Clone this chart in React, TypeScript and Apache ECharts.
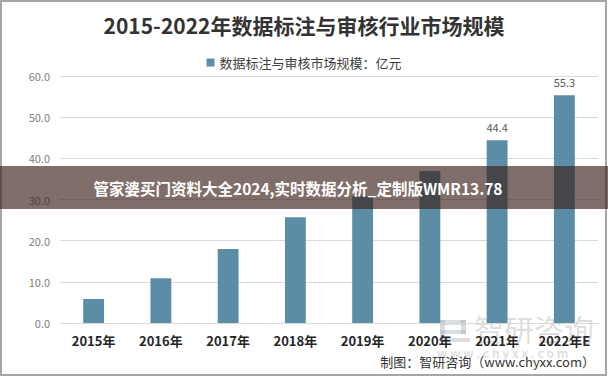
import React, { useEffect, useRef } from "react";
import * as echarts from "echarts";

const categories = ["2015年", "2016年", "2017年", "2018年", "2019年", "2020年", "2021年", "2022年E"];
const marketSize = [5.8, 10.9, 18.0, 25.7, 30.8, 36.9, 44.4, 55.3];
const labelShown = [false, false, false, false, false, false, true, true];
const yTicks = { min: 0, max: 60, interval: 10 };
const titleText = "2015-2022年数据标注与审核行业市场规模";
const seriesName = "数据标注与审核市场规模：亿元";
const bannerText = "管家婆买门资料大全2024,实时数据分析_定制版WMR13.78";
const sourceText = "制图：智研咨询（www.chyxx.com）";
const watermarkName = "智研咨询";
const watermarkUrl = "w w w . c h y x x . c o m";

export default function App() {
  const ref = useRef<HTMLDivElement>(null);
  useEffect(() => {
    document.body.style.margin = "0";
    if (!ref.current) return;
    const chart = echarts.init(ref.current, null, { renderer: "svg" });
    const font = "'Noto Sans CJK SC', 'Noto Sans', sans-serif";
    const wm = "rgba(150,160,175,0.35)";
    chart.setOption({
      animation: false,
      backgroundColor: "#ffffff",
      textStyle: { fontFamily: font },
      title: {
        text: titleText,
        left: "center",
        top: 9,
        textStyle: { fontSize: 21, fontWeight: "bold", color: "#333333", fontFamily: font },
      },
      legend: {
        top: 51,
        left: "center",
        itemWidth: 8,
        itemHeight: 8,
        itemGap: 6,
        icon: "rect",
        textStyle: { fontSize: 13, color: "#404040", fontFamily: font },
        data: [seriesName],
      },
      grid: { left: 60, right: 10, top: 76, bottom: 54, containLabel: false },
      xAxis: {
        type: "category",
        data: categories,
        axisLine: { show: true, lineStyle: { color: "#d9d9d9" } },
        axisTick: { show: false },
        axisLabel: { fontSize: 13, fontWeight: "bold", color: "#262626", margin: 11, fontFamily: font },
      },
      yAxis: {
        type: "value",
        min: yTicks.min,
        max: yTicks.max,
        interval: yTicks.interval,
        axisLine: { show: false },
        axisTick: { show: false },
        splitLine: { lineStyle: { color: "#d9d9d9" } },
        axisLabel: {
          fontSize: 11,
          color: "#808080",
          margin: 10,
          fontFamily: font,
          formatter: (v: number) => v.toFixed(1),
        },
      },
      series: [
        {
          name: seriesName,
          type: "bar",
          barWidth: "31%",
          itemStyle: { color: "#5b8ea6" },
          data: marketSize.map((v, i) => ({
            value: v,
            label: {
              show: labelShown[i],
              position: "top",
              distance: 8,
              fontSize: 11,
              color: "#595959",
              formatter: (p: any) => Number(p.value).toFixed(1),
            },
          })),
        },
      ],
      graphic: [
        {
          type: "rect",
          z: 1,
          silent: true,
          shape: { x: 1, y: 1, width: 605, height: 374 },
          style: { fill: "none", stroke: "#a6a6a6", lineWidth: 2 },
        },
        {
          type: "text",
          right: 13,
          top: 355,
          z: 10,
          style: { text: sourceText, fill: "#333333", font: `13px ${font}` },
        },
        // watermark
        {
          type: "group",
          z: 20,
          silent: true,
          children: [
            { type: "rect", shape: { x: 440, y: 320, width: 26, height: 5 }, style: { fill: wm } },
            { type: "rect", shape: { x: 440, y: 320, width: 5, height: 22 }, style: { fill: wm } },
            { type: "rect", shape: { x: 440, y: 330, width: 26, height: 4 }, style: { fill: wm } },
            { type: "rect", shape: { x: 440, y: 338, width: 30, height: 4 }, style: { fill: wm } },
            { type: "rect", shape: { x: 461, y: 320, width: 5, height: 14 }, style: { fill: wm } },
            {
              type: "text",
              x: 474,
              y: 313,
              style: { text: watermarkName, font: `30px ${font}`, fill: "rgba(160,160,160,0.35)" },
            },
            {
              type: "text",
              x: 437,
              y: 346,
              style: { text: watermarkUrl, font: `bold 12px ${font}`, fill: "rgba(160,160,160,0.35)" },
            },
          ],
        },
        // overlay banner
        {
          type: "rect",
          z: 30,
          silent: true,
          shape: { x: 0, y: 166, width: 608, height: 43 },
          style: { fill: "rgba(58,32,24,0.65)" },
        },
        {
          type: "text",
          z: 31,
          x: 298,
          y: 188,
          style: {
            text: bannerText,
            font: `bold 15.5px ${font}`,
            fill: "#ffffff",
            align: "center",
            verticalAlign: "middle",
          },
        },
      ],
    });
    return () => chart.dispose();
  }, []);
  return <div ref={ref} style={{ width: 608, height: 377 }} />;
}
